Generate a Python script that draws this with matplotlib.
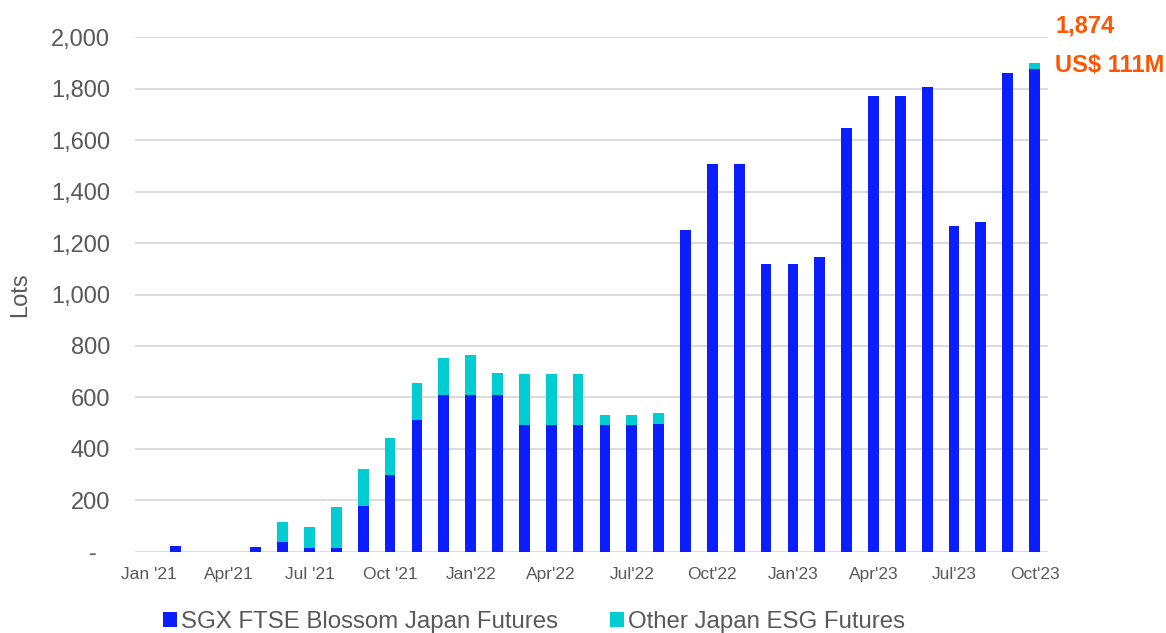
import matplotlib
matplotlib.use("Agg")
import matplotlib.pyplot as plt
import numpy as np

plt.rcParams['font.family'] = ['Liberation Sans', 'DejaVu Sans']

months = ["Jan'21","Feb'21","Mar'21","Apr'21","May'21","Jun'21","Jul'21","Aug'21","Sep'21","Oct'21","Nov'21","Dec'21",
          "Jan'22","Feb'22","Mar'22","Apr'22","May'22","Jun'22","Jul'22","Aug'22","Sep'22","Oct'22","Nov'22","Dec'22",
          "Jan'23","Feb'23","Mar'23","Apr'23","May'23","Jun'23","Jul'23","Aug'23","Sep'23","Oct'23"]
sgx = [0, 24, 0, 0, 19, 39, 17, 17, 180, 300, 514, 610,
       610, 610, 495, 495, 495, 495, 495, 498, 1250, 1507, 1507, 1118,
       1118, 1146, 1647, 1771, 1771, 1806, 1266, 1282, 1860, 1874]
other = [0, 0, 0, 0, 0, 77, 80, 156, 144, 143, 143, 142,
         154, 87, 197, 197, 197, 37, 37, 40, 0, 0, 0, 0,
         0, 0, 0, 0, 0, 0, 0, 0, 0, 25]
tick_labels = ["Jan '21", "Apr'21", "Jul '21", "Oct '21", "Jan'22", "Apr'22", "Jul'22",
               "Oct'22", "Jan'23", "Apr'23", "Jul'23", "Oct'23"]
yticks = [0, 200, 400, 600, 800, 1000, 1200, 1400, 1600, 1800, 2000]

blue = '#0A1EFF'
cyan = '#00CDD2'
gray = '#595959'
orange = '#FF5500'

fig = plt.figure(figsize=(11.66, 6.33), dpi=100)
ax = fig.add_axes([0.1158, 0.128, 0.783, 0.8135])

x = np.arange(len(months))
ax.bar(x, sgx, width=0.4, color=blue, label='SGX FTSE Blossom Japan Futures', zorder=3)
ax.bar(x, other, width=0.4, bottom=sgx, color=cyan, label='Other Japan ESG Futures', zorder=3)

ax.set_xlim(-0.5, 33.5)
ax.set_ylim(0, 2000)
ax.set_yticks(yticks)
ax.set_yticklabels(['-  ' if v == 0 else f'{v:,}' for v in yticks], fontsize=17, color=gray)
ax.set_xticks(x[::3])
ax.set_xticklabels(tick_labels, fontsize=12.5, color=gray)
ax.tick_params(axis='both', length=0)
ax.tick_params(axis='y', pad=18)
ax.tick_params(axis='x', pad=11)
ax.grid(axis='y', color='#D9D9D9', linewidth=1.3, zorder=0)
ax.set_axisbelow(True)
for s in ax.spines.values():
    s.set_visible(False)
ax.set_ylabel('Lots', fontsize=17, color=gray, labelpad=14)

ax.text(1.0077, 1.022, '1,874', transform=ax.transAxes, color=orange, fontsize=17,
        fontweight='bold', ha='left', va='center', clip_on=False)
ax.text(1.0077, 0.944, 'US$ 111M', transform=ax.transAxes, color=orange, fontsize=17,
        fontweight='bold', ha='left', va='center', clip_on=False)

leg = fig.legend(loc='center left', bbox_to_anchor=(163/1166, 1 - 622/633), ncol=2, frameon=False,
                 fontsize=17.3, handlelength=0.58, handleheight=0.58, handletextpad=0.15,
                 columnspacing=2.2, labelcolor=gray, borderpad=0, borderaxespad=0)

fig.savefig('out.png', dpi=100)
